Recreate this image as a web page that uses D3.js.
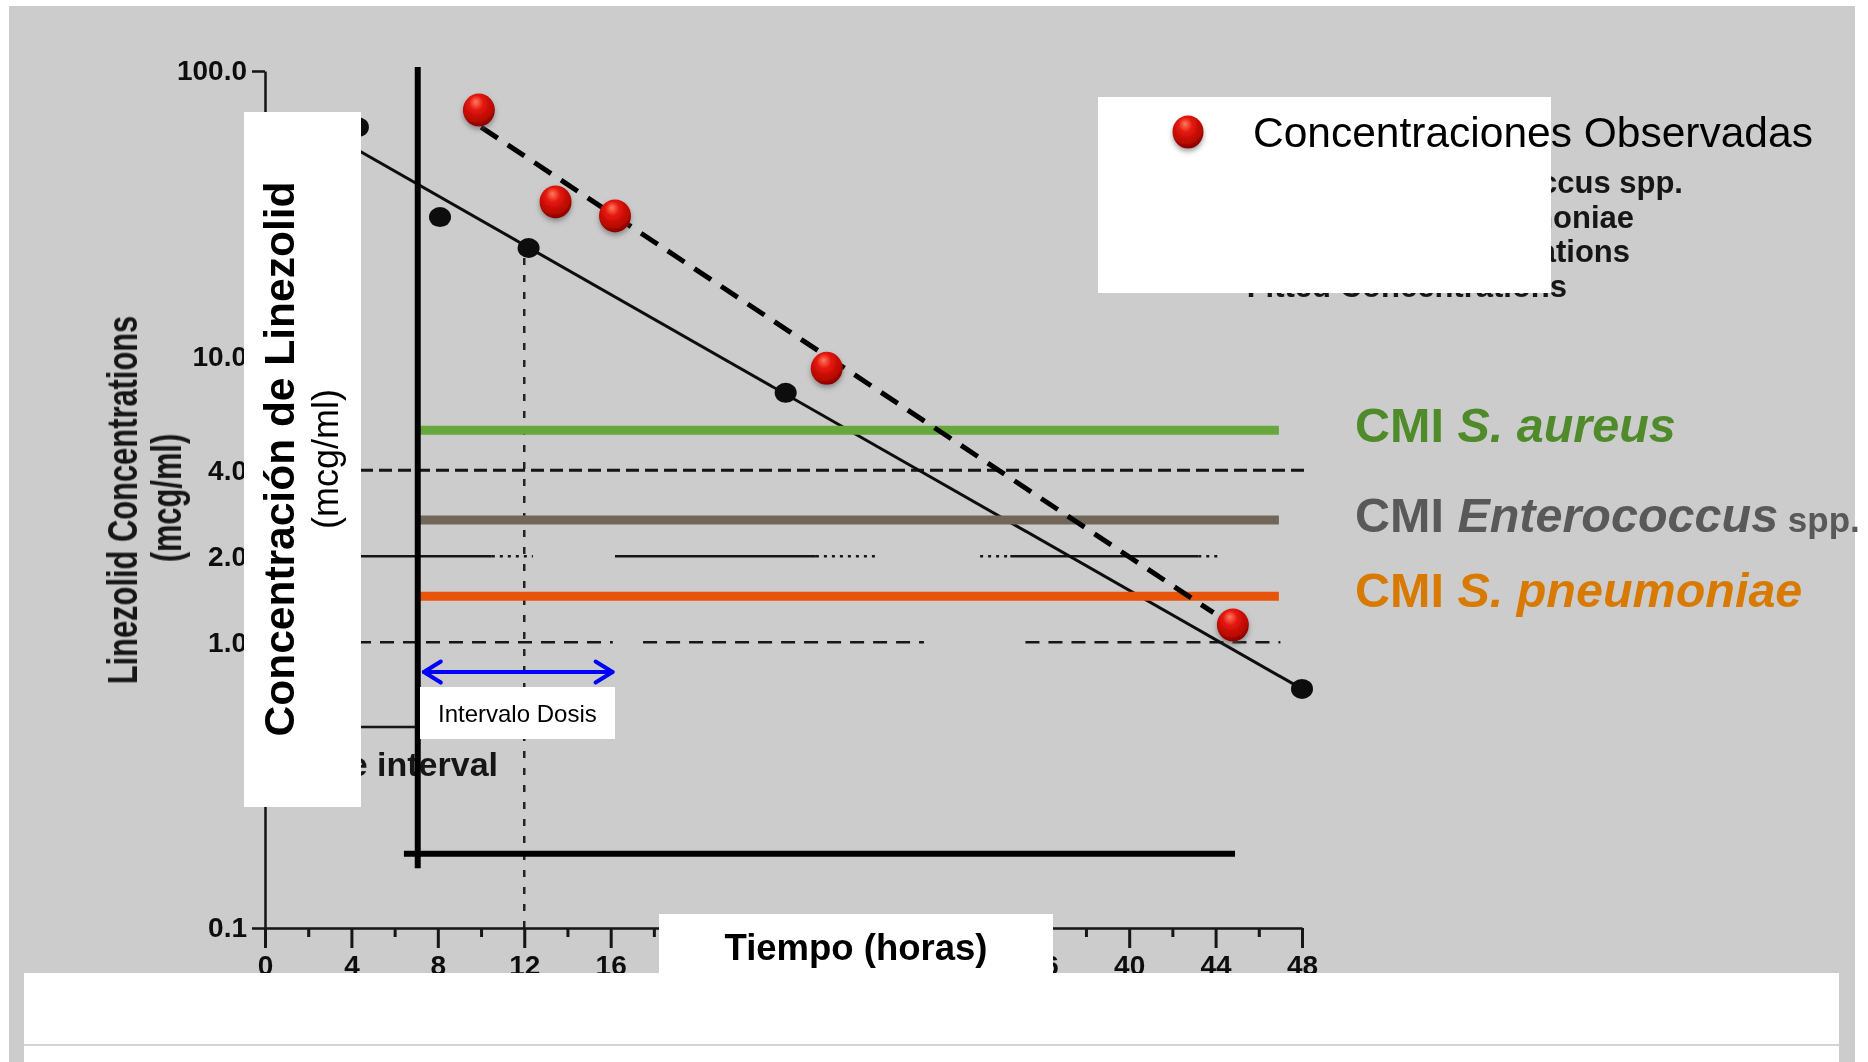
<!DOCTYPE html>
<html>
<head>
<meta charset="utf-8">
<script src="https://cdn.jsdelivr.net/npm/d3@7"></script>
<style>
  html, body { margin: 0; padding: 0; background: #ffffff; }
  svg { display: block; font-family: "Liberation Sans", Arial, Helvetica, sans-serif; }
</style>
</head>
<body>
<svg id="chart" width="1868" height="1062"></svg>
<script>
// ---- axis ticks -------------------------------------------------------
const hourTicks = [0, 4, 8, 12, 16, 20, 24, 28, 32, 36, 40, 44, 48];
const hourTickLabels = ["0", "4", "8", "12", "16", "", "", "", "", "36", "40", "44", "48"];
const minorHourTicks = [2, 6, 10, 14, 18, 22, 26, 30, 34, 38, 42, 46];
const concTicks = [100, 10, 4, 2, 1, 0.1];
const concTickLabels = ["100.0", "10.0", "4.0", "2.0", "1.0", "0.1"];

// ---- fitted concentrations (black points + regression line) -----------
const fittedTimes = [4.3, 8.1, 12.2, 24.1, 48];
const fittedConc = [63.6, 30.8, 24.0, 7.47, 0.687];
const fitLineTimes = [2, 48];
const fitLineConc = [66.4, 0.687];

// ---- observed concentrations (red points + dashed line) ---------------
const observedTimes = [9.9, 13.45, 16.2, 26.0, 44.8];
const observedConc = [73, 34.8, 31.1, 9.1, 1.15];
const observedLineTimes = [10, 43.9];
const observedLineConc = [63.6, 1.27];

// ---- MIC thresholds ---------------------------------------------------
const micNames = ["S. aureus", "Enterococcus", "S. pneumoniae"];
const micSuffix = ["", " spp.", ""];
const micValues = [5.53, 2.68, 1.45];
const micLineColors = ["#66a83e", "#716758", "#e8550a"];
const micTextColors = ["#4f8a2b", "#595959", "#d97a00"];
const micSpan = [7.07, 46.93];

// ---- reference grid of the original plot (hour ranges) ----------------
const grid4Dashed = [[0, 48.2]];
const grid2Solid = [[0, 10.5], [16.2, 25.5], [34.5, 43.2]];
const grid2Dotted = [[10.5, 12.4], [25.5, 28.4], [33.1, 34.5], [43.2, 44.2]];
const grid1Dashed = [[0, 16.1], [17.5, 30.5], [35.2, 47]];

// ---- original legend entries (right-aligned tails) ---------------------
const oldLegend = ["MIC90 for Enterococcus spp.", "MIC90 for S. pneumoniae",
                   "Observed Concentrations", "Fitted Concentrations"];

// ---- dosing interval annotations --------------------------------------
const doseIntervalOld = [0, 12];
const doseIntervalLevel = 0.505;
const doseArrow = [7.26, 16.18];
const doseArrowLevel = 0.787;

// ---- new axis frame ---------------------------------------------------
const frameX = 7.07, frameTop = 103.2, frameBottom = 0.162;
const frameY = 0.182, frameLeft = 6.43, frameRight = 44.9;

const svg = d3.select("#chart");
const x = d3.scaleLinear().domain([0, 48]).range([265, 1302]);
const y = d3.scaleLog().domain([0.1, 100]).range([928, 71]);

const defs = svg.append("defs");
const soft = defs.append("filter").attr("id", "soft");
soft.append("feGaussianBlur").attr("stdDeviation", 0.6);

const grad = defs.append("radialGradient").attr("id", "redBall")
  .attr("cx", "45%").attr("cy", "35%").attr("r", "65%").attr("fx", "40%").attr("fy", "25%");
grad.append("stop").attr("offset", "0%").attr("stop-color", "#ff7a5c");
grad.append("stop").attr("offset", "35%").attr("stop-color", "#e5170e");
grad.append("stop").attr("offset", "80%").attr("stop-color", "#b30800");
grad.append("stop").attr("offset", "100%").attr("stop-color", "#860000");

const shadow = defs.append("filter").attr("id", "shadow")
  .attr("x", "-50%").attr("y", "-50%").attr("width", "200%").attr("height", "200%");
shadow.append("feDropShadow").attr("dx", 0).attr("dy", 3).attr("stdDeviation", 2.5)
  .attr("flood-color", "#555").attr("flood-opacity", 0.55);

// slide background
svg.append("rect").attr("x", 9).attr("y", 6).attr("width", 1846).attr("height", 1056).attr("fill", "#cccccc");

// ======================= original plot layer ===========================
const scan = svg.append("g").attr("filter", "url(#soft)");

const hseg = (g, segs, level, w, dash) => g.selectAll(null).data(segs).join("line")
  .attr("x1", d => x(d[0])).attr("x2", d => x(d[1]))
  .attr("y1", y(level)).attr("y2", y(level))
  .attr("stroke", "#151515").attr("stroke-width", w)
  .attr("stroke-dasharray", dash);

hseg(scan, grid4Dashed, 4, 3, "13,6");
hseg(scan, grid2Solid, 2, 2.5, null);
hseg(scan, grid2Dotted, 2, 2.5, "3,5");
hseg(scan, grid1Dashed, 1, 2.5, "14,9");

// dashed drop line at 12 h
scan.append("line")
  .attr("x1", x(12)).attr("x2", x(12))
  .attr("y1", y(fittedConc[2]) + 10).attr("y2", y(0.1))
  .attr("stroke", "#222").attr("stroke-width", 2.5).attr("stroke-dasharray", "7,10");

// y axis of the original plot
const yAxis = scan.append("g").attr("transform", `translate(${x(0)},0)`)
  .call(d3.axisLeft(y).tickValues(concTicks)
    .tickFormat((d, i) => concTickLabels[i]).tickSize(13).tickPadding(5).tickSizeOuter(0));
yAxis.select(".domain").attr("stroke", "#151515").attr("stroke-width", 2.5);
yAxis.selectAll(".tick line").attr("stroke", "#151515").attr("stroke-width", 2.5);
yAxis.selectAll(".tick text").attr("fill", "#111").attr("font-size", 28).attr("font-weight", "bold")
  .attr("font-family", "Liberation Sans, Arial, sans-serif");

// x axis of the original plot
const xAxis = scan.append("g").attr("transform", `translate(0,${y(0.1)})`)
  .call(d3.axisBottom(x).tickValues(hourTicks).tickFormat((d, i) => hourTickLabels[i])
    .tickSize(20).tickPadding(7).tickSizeOuter(0));
xAxis.select(".domain").attr("stroke", "#151515").attr("stroke-width", 2.5);
xAxis.selectAll(".tick line").attr("stroke", "#151515").attr("stroke-width", 3);
xAxis.selectAll(".tick text").attr("fill", "#111").attr("font-size", 28).attr("font-weight", "bold")
  .attr("font-family", "Liberation Sans, Arial, sans-serif");
const xMinor = scan.append("g").attr("transform", `translate(0,${y(0.1)})`)
  .call(d3.axisBottom(x).tickValues(minorHourTicks).tickSize(9).tickFormat("").tickSizeOuter(0));
xMinor.select(".domain").remove();
xMinor.selectAll(".tick line").attr("stroke", "#151515").attr("stroke-width", 3);

// original y axis title
scan.append("text")
  .attr("transform", "translate(137,500) rotate(-90) scale(0.735,1)")
  .attr("text-anchor", "middle").attr("font-size", 42).attr("font-weight", "bold").attr("fill", "#151515")
  .text("Linezolid Concentrations");
scan.append("text")
  .attr("transform", "translate(181,498) rotate(-90) scale(0.735,1)")
  .attr("text-anchor", "middle").attr("font-size", 42).attr("font-weight", "bold").attr("fill", "#151515")
  .text("(mcg/ml)");

// fitted regression line and fitted points
const line = d3.line().x(d => x(d[0])).y(d => y(d[1]));
scan.append("path")
  .attr("d", line(d3.zip(fitLineTimes, fitLineConc)))
  .attr("fill", "none").attr("stroke", "#111").attr("stroke-width", 3);
scan.selectAll(null).data(d3.zip(fittedTimes, fittedConc)).join("ellipse")
  .attr("cx", d => x(d[0])).attr("cy", d => y(d[1]))
  .attr("rx", 11).attr("ry", 10).attr("fill", "#0a0a0a");

// original dose interval marker
scan.append("line")
  .attr("x1", x(doseIntervalOld[0])).attr("x2", x(doseIntervalOld[1]))
  .attr("y1", y(doseIntervalLevel)).attr("y2", y(doseIntervalLevel))
  .attr("stroke", "#151515").attr("stroke-width", 2.5);
scan.append("text").attr("x", 498).attr("y", 776).attr("text-anchor", "end")
  .attr("font-size", 34).attr("font-weight", "bold").attr("fill", "#151515")
  .text("Dose interval");

// original legend
const oldLegendEnds = [1683, 1634, 1630, 1567];
scan.selectAll(null).data(oldLegend).join("text")
  .attr("x", (d, i) => oldLegendEnds[i]).attr("y", (d, i) => 193 + i * 34.5)
  .attr("text-anchor", "end")
  .attr("font-size", 31).attr("font-weight", "bold").attr("fill", "#151515")
  .text(d => d);

// ======================= overlay layer =================================
// MIC threshold lines
svg.selectAll(null).data(micValues).join("line")
  .attr("x1", x(micSpan[0])).attr("x2", x(micSpan[1]))
  .attr("y1", d => y(d)).attr("y2", d => y(d))
  .attr("stroke", (d, i) => micLineColors[i]).attr("stroke-width", 9);

// new axis frame
svg.append("line")
  .attr("x1", x(frameX)).attr("x2", x(frameX)).attr("y1", y(frameTop)).attr("y2", y(frameBottom))
  .attr("stroke", "#000").attr("stroke-width", 6);
svg.append("line")
  .attr("x1", x(frameLeft)).attr("x2", x(frameRight)).attr("y1", y(frameY)).attr("y2", y(frameY))
  .attr("stroke", "#000").attr("stroke-width", 6);

// observed trend (dashed)
svg.append("path")
  .attr("d", line(d3.zip(observedLineTimes, observedLineConc)))
  .attr("fill", "none").attr("stroke", "#000").attr("stroke-width", 5)
  .attr("stroke-dasharray", "20,12");

// observed points
svg.selectAll(null).data(d3.zip(observedTimes, observedConc)).join("ellipse")
  .attr("cx", d => x(d[0])).attr("cy", d => y(d[1]))
  .attr("rx", 16).attr("ry", 16.5).attr("fill", "url(#redBall)").attr("filter", "url(#shadow)");

// white label panels
const panel = (px, py, w, h) => svg.append("rect")
  .attr("x", px).attr("y", py).attr("width", w).attr("height", h).attr("fill", "#ffffff");
panel(244, 112, 117, 695);
panel(420, 687, 195, 52);
panel(659, 914, 394, 59);
panel(1098, 97, 453, 196);
panel(24, 973, 1815, 89);
svg.append("line").attr("x1", 24).attr("x2", 1839).attr("y1", 1045).attr("y2", 1045)
  .attr("stroke", "#d4d4d4").attr("stroke-width", 2);

// new y axis title
svg.append("text")
  .attr("transform", "translate(294,459) rotate(-90)")
  .attr("text-anchor", "middle").attr("font-size", 42.5).attr("font-weight", "bold").attr("fill", "#000")
  .text("Concentración de Linezolid");
svg.append("text")
  .attr("transform", "translate(338,459) rotate(-90)")
  .attr("text-anchor", "middle").attr("font-size", 36).attr("fill", "#000")
  .text("(mcg/ml)");

// new x axis title
svg.append("text").attr("x", 856).attr("y", 960).attr("text-anchor", "middle")
  .attr("font-size", 36.5).attr("font-weight", "bold").attr("fill", "#000")
  .text("Tiempo (horas)");

// dosing interval arrow
const ay = y(doseArrowLevel), ax1 = x(doseArrow[0]), ax2 = x(doseArrow[1]);
const blue = svg.append("g").attr("stroke", "#0000ff").attr("stroke-width", 4).attr("fill", "none")
  .attr("stroke-linecap", "round").attr("stroke-linejoin", "round");
blue.append("line").attr("x1", ax1 + 2).attr("x2", ax2 - 2).attr("y1", ay).attr("y2", ay);
blue.append("path").attr("d", `M${ax1 + 19},${ay - 10.5}L${ax1 + 2},${ay}L${ax1 + 19},${ay + 10.5}`);
blue.append("path").attr("d", `M${ax2 - 19},${ay - 10.5}L${ax2 - 2},${ay}L${ax2 - 19},${ay + 10.5}`);
svg.append("text").attr("x", 438).attr("y", 722)
  .attr("font-size", 24).attr("fill", "#000").text("Intervalo Dosis");

// legend
svg.append("ellipse").attr("cx", 1188).attr("cy", 132).attr("rx", 15.5).attr("ry", 16.5)
  .attr("fill", "url(#redBall)").attr("filter", "url(#shadow)");
svg.append("text").attr("x", 1253).attr("y", 147).attr("font-size", 42.5).attr("fill", "#000")
  .text("Concentraciones Observadas");

// MIC labels
const micY = [442, 532, 607];
micNames.forEach((name, i) => {
  const t = svg.append("text").attr("x", 1355).attr("y", micY[i])
    .attr("font-size", 48.5).attr("font-weight", "bold").attr("fill", micTextColors[i]);
  t.append("tspan").text("CMI ");
  t.append("tspan").attr("font-style", "italic").text(name);
  if (micSuffix[i]) t.append("tspan").attr("font-size", 35).text(micSuffix[i]);
});
</script>
</body>
</html>
